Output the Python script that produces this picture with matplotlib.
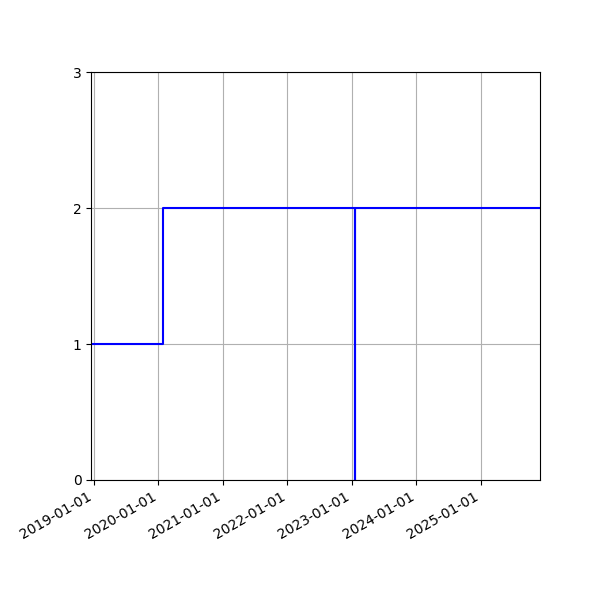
import matplotlib
matplotlib.use('Agg')
import matplotlib.pyplot as plt
import matplotlib.dates as mdates
import numpy as np

# change points of the step series
dates = np.array(['2018-12-17', '2020-01-27', '2023-01-16', '2023-01-17', '2025-12-01'],
                 dtype='datetime64[D]')
values = [1, 2, 0, 2, 2]

fig, ax = plt.subplots(figsize=(6, 6), dpi=100)
ax.plot(dates, values, drawstyle='steps-post', color='blue', linewidth=1.5)

ax.set_xlim(dates[0], dates[-1])
ax.set_ylim(0, 3)
ax.set_yticks([0, 1, 2, 3])
ax.xaxis.set_major_locator(mdates.YearLocator())
ax.xaxis.set_major_formatter(mdates.DateFormatter('%Y-%m-%d'))
ax.grid(True)

fig.autofmt_xdate()
fig.subplots_adjust(left=0.152, right=0.9, top=0.88, bottom=0.2)
fig.savefig('out.png', dpi=100)
